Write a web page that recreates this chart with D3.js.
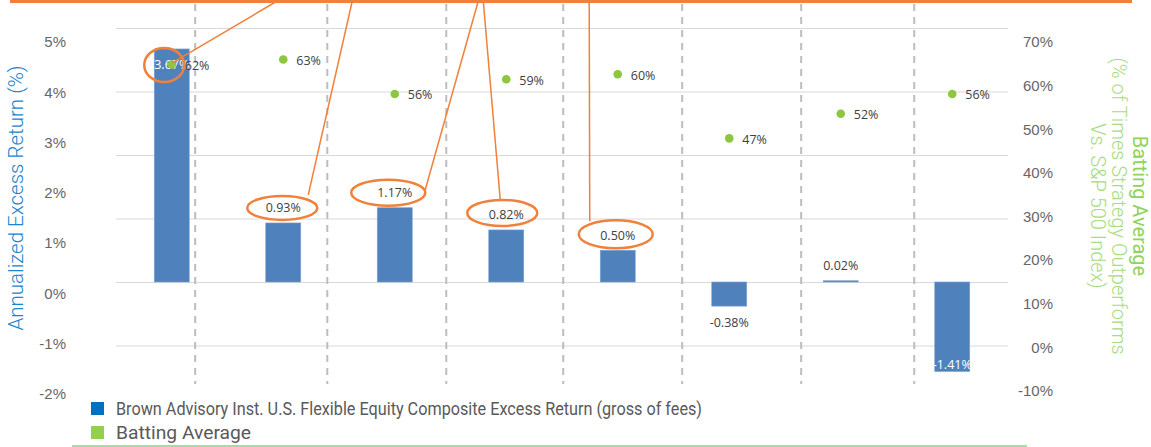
<!DOCTYPE html>
<html lang="en">
<head>
<meta charset="utf-8">
<title>Excess Return and Batting Average</title>
<script src="https://d3js.org/d3.v7.min.js"></script>
<style>
  body { margin: 0; background: #fff; }
  svg { display: block; }
  .tickLabels text { font-family: "Liberation Sans", Arial, sans-serif; font-size: 15px; fill: #666; }
  .tickLabels path, .tickLabels line { display: none; }
  .grid path { display: none; }
  .grid line { stroke: #d9d9d9; stroke-width: 1px; }
  .grid text { display: none; }
  .lbl { font-family: "Open Sans", sans-serif; font-size: 12.5px; fill: #404040; }
</style>
</head>
<body>
<div class="chart"></div>
<script>
// data
var periods = ["1", "2", "3", "4", "5", "6", "7", "8"];
var excessReturn = [3.67, 0.93, 1.17, 0.82, 0.50, -0.38, 0.02, -1.41];
var battingAvg = [62, 63, 56, 59, 60, 47, 52, 56];
var leftTicks = [-2, -1, 0, 1, 2, 3, 4, 5];
var rightTicks = [-10, 0, 10, 20, 30, 40, 50, 60, 70];
var gridTicks = [-1, 0, 1, 2, 3, 4];
// dashed dividers, in category units
var dividers = [0.21, 1.395, 2.462, 3.511, 4.578, 5.645, 6.659];
var legendNames = ["Brown Advisory Inst. U.S. Flexible Equity Composite Excess Return (gross of fees)", "Batting Average"];

var width = 1151, height = 447;
var orange = "#f0803a";

var svg = d3.select(".chart").append("svg")
    .attr("width", width)
    .attr("height", height);

// scales
var x = d3.scaleBand().domain(periods).range([116, 1008]).paddingInner(0.686).paddingOuter(0.343);
var xIdx = d3.scaleLinear().domain([0, 1]).range([x(periods[0]) + x.bandwidth() / 2, x(periods[1]) + x.bandwidth() / 2]);
var yBar = d3.scaleLinear().domain([-1, 4]).range([345.5, 28]);
var yBat = d3.scaleLinear().domain([0, 70]).range([370, 25]);
var yLeft = d3.scaleLinear().domain([-2, 5]).range([394, 42]);
var yRight = d3.scaleLinear().domain([-10, 70]).range([391, 42]);

// gridlines
svg.append("g").attr("class", "grid")
    .attr("transform", "translate(116,0)")
    .call(d3.axisRight(yBar).tickValues(gridTicks).tickSize(1008 - 116));

// dashed dividers
svg.selectAll(".divider").data(dividers).enter().append("line")
    .attr("x1", function(d) { return xIdx(d); })
    .attr("x2", function(d) { return xIdx(d); })
    .attr("y1", 4).attr("y2", 384)
    .style("stroke", "#bdbdbd").style("stroke-width", 2)
    .style("stroke-dasharray", "7,6");

// bars
svg.selectAll(".bar").data(excessReturn).enter().append("rect")
    .attr("x", function(d, i) { return x(periods[i]); })
    .attr("y", function(d) { return yBar(Math.max(0, d)); })
    .attr("width", x.bandwidth())
    .attr("height", function(d) { return Math.abs(yBar(d) - yBar(0)); })
    .style("fill", "#4f81bd")
    .style("stroke", "#7ea3d3").style("stroke-width", 0.6);

// bar labels
function inside(d) { return Math.abs(d) > 1.3; }
function labelY(d) {
    if (inside(d)) return d > 0 ? yBar(d) + 16 : yBar(d) - 7;
    return d >= 0 ? yBar(d) - 15 : yBar(d) + 16;
}
svg.selectAll(".barLbl").data(excessReturn).enter().append("text")
    .attr("class", "lbl")
    .attr("x", function(d, i) { return x(periods[i]) + x.bandwidth() / 2; })
    .attr("y", labelY)
    .attr("dy", "0.35em")
    .attr("text-anchor", "middle")
    .style("fill", function(d) { return inside(d) ? "#fff" : "#404040"; })
    .text(function(d) { return d.toFixed(2) + "%"; });

// batting average dots
svg.selectAll(".dot").data(battingAvg).enter().append("circle")
    .attr("cx", function(d, i) { return x(periods[i]) + x.bandwidth() / 2; })
    .attr("cy", function(d) { return yBat(d); })
    .attr("r", 4.3)
    .style("fill", "#8dc63f");

svg.selectAll(".dotLbl").data(battingAvg).enter().append("text")
    .attr("class", "lbl")
    .attr("x", function(d, i) { return x(periods[i]) + x.bandwidth() / 2 + 13; })
    .attr("y", function(d) { return yBat(d) + 1; })
    .attr("dy", "0.35em")
    .text(function(d) { return d + "%"; });

// axis labels
svg.append("g").attr("class", "tickLabels")
    .attr("transform", "translate(66,0)")
    .call(d3.axisLeft(yLeft).tickValues(leftTicks).tickSize(0).tickPadding(0)
        .tickFormat(function(d) { return d + "%"; }));

svg.append("g").attr("class", "tickLabels")
    .attr("transform", "translate(1053,0)")
    .call(d3.axisLeft(yRight).tickValues(rightTicks).tickSize(0).tickPadding(0)
        .tickFormat(function(d) { return d + "%"; }));

// axis titles
svg.append("text")
    .attr("transform", "translate(23,198) rotate(-90)")
    .attr("text-anchor", "middle")
    .style("font-family", "Roboto, sans-serif").style("font-weight", 300)
    .style("font-size", "20.5px").style("fill", "#1a84cf")
    .text("Annualized Excess Return (%)");

var rightTitle = [
    {t: "Batting Average", c: "#8fd35a", w: 400},
    {t: "(% of Times Strategy Outperforms", c: "#a8dc80", w: 300},
    {t: "Vs. S&P 500 Index)", c: "#a8dc80", w: 300}
];
svg.selectAll(".rTitle").data(rightTitle).enter().append("text")
    .attr("transform", function(d, i) { return "translate(" + (1133 - i * 21) + ",206) rotate(90)"; })
    .attr("text-anchor", "middle")
    .style("font-family", "Roboto, sans-serif")
    .style("font-weight", function(d) { return d.w; })
    .style("font-size", "20px")
    .style("fill", function(d) { return d.c; })
    .text(function(d) { return d.t; });

// annotations: orange top rule, circled labels and leader lines
svg.append("rect").attr("x", 10).attr("y", 0).attr("width", 1122).attr("height", 3)
    .style("fill", orange);

var callouts = [
    {i: 0, dx: -7.5, dy: 0, rx: 20, ry: 17, top: 0.946, ex: 8, ey: -2},
    {i: 1, dx: -1, dy: 0, rx: 35, ry: 12, top: 1.619, ex: 26, ey: -13},
    {i: 2, dx: -6.5, dy: 0, rx: 37, ry: 13, top: 2.749, ex: 37, ey: -3},
    {i: 3, dx: -4, dy: -2, rx: 35, ry: 13, top: 2.794, ex: -2, ey: -13},
    {i: 4, dx: -2, dy: -1, rx: 37, ry: 14, top: 3.744, ex: -26, ey: -13}
];
callouts.forEach(function(c) {
    var v = excessReturn[c.i];
    var cx = x(periods[c.i]) + x.bandwidth() / 2 + c.dx;
    var cy = labelY(v) + c.dy;
    svg.append("ellipse")
        .attr("cx", cx).attr("cy", cy).attr("rx", c.rx).attr("ry", c.ry)
        .style("fill", "none").style("stroke", orange).style("stroke-width", 2.5);
    svg.append("line")
        .attr("x1", cx + c.ex).attr("y1", cy + c.ey)
        .attr("x2", xIdx(c.top)).attr("y2", 1)
        .style("stroke", orange).style("stroke-width", 1.5);
});

// legend
var legendColors = ["#0070c0", "#92d050"];
var legendWidths = [586, 135];
var legend = svg.selectAll(".legend").data(legendNames).enter().append("g")
    .attr("transform", function(d, i) { return "translate(91," + (402 + i * 24) + ")"; });
legend.append("rect").attr("width", 13).attr("height", 13)
    .style("fill", function(d, i) { return legendColors[i]; });
legend.append("text")
    .attr("x", 25).attr("y", 13)
    .attr("textLength", function(d, i) { return legendWidths[i]; })
    .attr("lengthAdjust", "spacingAndGlyphs")
    .style("font-family", "Roboto, sans-serif").style("font-size", "17.5px").style("fill", "#595959")
    .text(function(d) { return d; });

svg.append("line").attr("x1", 72).attr("x2", 1027).attr("y1", 446).attr("y2", 446)
    .style("stroke", "#86d08a").style("stroke-width", 1.5);
</script>
</body>
</html>
